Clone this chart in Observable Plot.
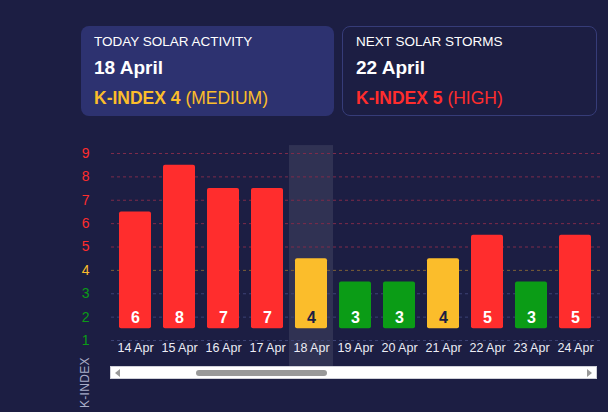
<!DOCTYPE html>
<html>
<head>
<meta charset="utf-8">
<script src="https://cdn.jsdelivr.net/npm/d3@7"></script>
<script src="https://cdn.jsdelivr.net/npm/@observablehq/plot@0.6"></script>
<style>
  html, body { margin: 0; padding: 0; }
  body { width: 608px; height: 412px; background: #1c1e43; position: relative; overflow: hidden; font-family: "Liberation Sans", Arial, sans-serif; color: #fff; }
  .card { position: absolute; top: 26px; height: 90px; border-radius: 8px; box-sizing: border-box; padding: 8px 13px; }
  .card1 { left: 81px; width: 253px; background: #2d3270; }
  .card2 { left: 342px; width: 255px; border: 1px solid #363c78; padding: 7px 13px; }
  .card .t { font-size: 13.5px; line-height: 16px; }
  .card .d { font-size: 19px; font-weight: bold; margin-top: 8px; line-height: 20px; }
  .card .k { font-size: 17.5px; margin-top: 10px; line-height: 21px; }
  .card .k b { font-weight: bold; }
  #chart { position: absolute; left: 0; top: 140px; }
  .ylab { position: absolute; left: 78px; top: 408px; transform: rotate(-90deg); transform-origin: 0 0; font-size: 12px; color: #a9adc8; letter-spacing: 0.3px; }
  .scroll { position: absolute; left: 110px; top: 366px; width: 487px; height: 13px; background: #fff; border: 1px solid #cfd0d8; box-sizing: border-box; }
  .thumb { position: absolute; left: 85px; top: 3px; width: 131px; height: 6px; background: #999; border-radius: 3px; }
  .arr { position: absolute; top: 2px; width: 0; height: 0; border-top: 4px solid transparent; border-bottom: 4px solid transparent; }
  .arrL { left: 4px; border-right: 5px solid #999; }
  .arrR { right: 4px; border-left: 5px solid #999; }
</style>
</head>
<body>
<div class="card card1">
  <div class="t">TODAY SOLAR ACTIVITY</div>
  <div class="d">18 April</div>
  <div class="k" style="color:#fbbd2b"><b>K-INDEX 4</b> (MEDIUM)</div>
</div>
<div class="card card2">
  <div class="t">NEXT SOLAR STORMS</div>
  <div class="d">22 April</div>
  <div class="k" style="color:#ff2d2d"><b>K-INDEX 5</b> (HIGH)</div>
</div>
<div id="chart"></div>
<div class="ylab">K-INDEX</div>
<div class="scroll"><div class="arr arrL"></div><div class="thumb"></div><div class="arr arrR"></div></div>
<script>
const days = ["14 Apr","15 Apr","16 Apr","17 Apr","18 Apr","19 Apr","20 Apr","21 Apr","22 Apr","23 Apr","24 Apr"];
const kIndex = [6, 8, 7, 7, 4, 3, 3, 4, 5, 3, 5];
const kTicks = [1, 2, 3, 4, 5, 6, 7, 8, 9];
const today = "18 Apr";

const RED = "#ff2d2d", YELLOW = "#fbbd2b", GREEN = "#0b9c16";
const levelColor = k => k >= 5 ? RED : k === 4 ? YELLOW : GREEN;
const gridColor = k => k >= 5 ? "#7e2b4a" : k === 4 ? "#7e6036" : "#3c4274";

const data = days.map((d, i) => ({day: d, k: kIndex[i]}));
const base = 1.5;

const chart = Plot.plot({
  width: 608,
  height: 228,
  marginLeft: 111,
  marginRight: 8,
  marginTop: 13,
  marginBottom: 28,
  style: {background: "transparent", fontFamily: "Liberation Sans, Arial, sans-serif", overflow: "visible"},
  x: {domain: days, paddingInner: 0.27, paddingOuter: 0.135, label: null},
  y: {domain: [1, 9], label: null},
  marks: [
    Plot.barY([today], {x: d => d, y1: -0.11, y2: 9.34, fill: "#ffffff", fillOpacity: 0.09, insetLeft: -6, insetRight: -6}),
    Plot.ruleY(kTicks, {y: d => d, stroke: d => gridColor(d), strokeDasharray: "3,3", strokeWidth: 1}),
    Plot.barY(data, {x: "day", y1: () => base, y2: d => d.k + 0.5, fill: d => levelColor(d.k), rx: 2}),
    Plot.text(data, {x: "day", y: () => base + 0.5, dy: 1, text: d => String(d.k), fill: d => d.k === 4 ? "#1c1e43" : "#ffffff", fontSize: 16, fontWeight: "bold"}),
    Plot.axisY(kTicks, {tickSize: 0, tickPadding: 22, fontSize: 14, fill: d => levelColor(d)}),
    Plot.axisX({tickSize: 0, tickPadding: 3, fontSize: 12.5, fill: "#ecedf5"})
  ]
});
document.getElementById("chart").appendChild(chart);
</script>
</body>
</html>
